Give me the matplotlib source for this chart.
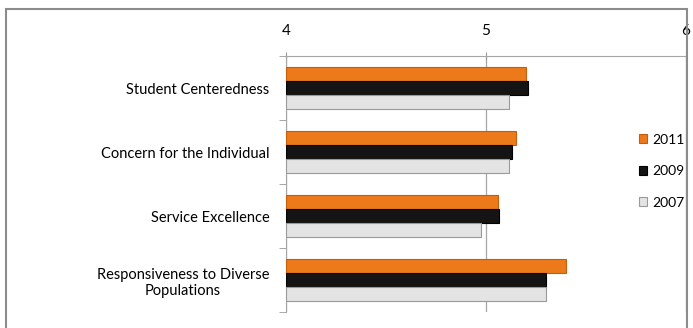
#!/usr/bin/env python3
import numpy as np
import matplotlib.pyplot as plt
from matplotlib.patches import Rectangle

categories = ['Student Centeredness', 'Concern for the Individual',
              'Service Excellence', 'Responsiveness to Diverse\nPopulations']
years = ['2011', '2009', '2007']
scores_2011 = [5.20, 5.15, 5.06, 5.40]
scores_2009 = [5.21, 5.13, 5.065, 5.30]
scores_2007 = [5.115, 5.115, 4.975, 5.30]
xticks = [4, 5, 6]

colors = ['#EC7A1A', '#141414', '#E4E4E4']
edges = ['#C45E0C', '#000000', '#9A9A9A']

plt.rcParams['font.family'] = ['Lato', 'DejaVu Sans']

fig = plt.figure(figsize=(6.93, 3.28), dpi=100)
fig.patches.append(Rectangle((6 / 693, -0.1), 681 / 693, 1 - 9 / 328 + 0.1,
                             transform=fig.transFigure, fill=False,
                             edgecolor='#8C8C8C', linewidth=1.5))
ax = fig.add_axes([286 / 693, 1 - 312 / 328, 400 / 693, 256 / 328])

y = np.arange(len(categories))
h = 0.215
series = [scores_2011, scores_2009, scores_2007]
for i, vals in enumerate(series):
    widths = np.array(vals) - 4
    ax.barh(y + (i - 1) * h, widths, left=4, height=h, color=colors[i],
            edgecolor=edges[i], linewidth=0.8, label=years[i], zorder=3)

ax.set_xlim(4, 6)
ax.set_ylim(len(categories) - 0.5, -0.5)
ax.xaxis.tick_top()
ax.set_xticks(xticks)
ax.set_xticklabels([str(t) for t in xticks], fontsize=11)
ax.tick_params(axis='x', direction='inout', length=6, color='#9A9A9A', pad=10)
ax.set_yticks(y)
ax.set_yticklabels(categories, fontsize=10.5)
ax.tick_params(axis='y', length=0, pad=12)
ax.set_yticks(np.arange(len(categories) + 1) - 0.5, minor=True)
ax.tick_params(axis='y', which='minor', direction='out', length=5, color='#9A9A9A')
for lab in ax.get_yticklabels():
    lab.set_horizontalalignment('right')
    lab.set_multialignment('center')

ax.grid(axis='x', color='#A6A6A6', linewidth=0.9, zorder=0)
for s in ['right', 'bottom']:
    ax.spines[s].set_visible(False)
for s in ['top', 'left']:
    ax.spines[s].set_color('#A6A6A6')

ax.legend(loc='center left', bbox_to_anchor=(0.882, 0.55), frameon=False,
          fontsize=10, handlelength=0.6, handleheight=0.6, labelspacing=1.4,
          handletextpad=0.35, borderaxespad=0, borderpad=0)

fig.savefig('out.png', dpi=100)
